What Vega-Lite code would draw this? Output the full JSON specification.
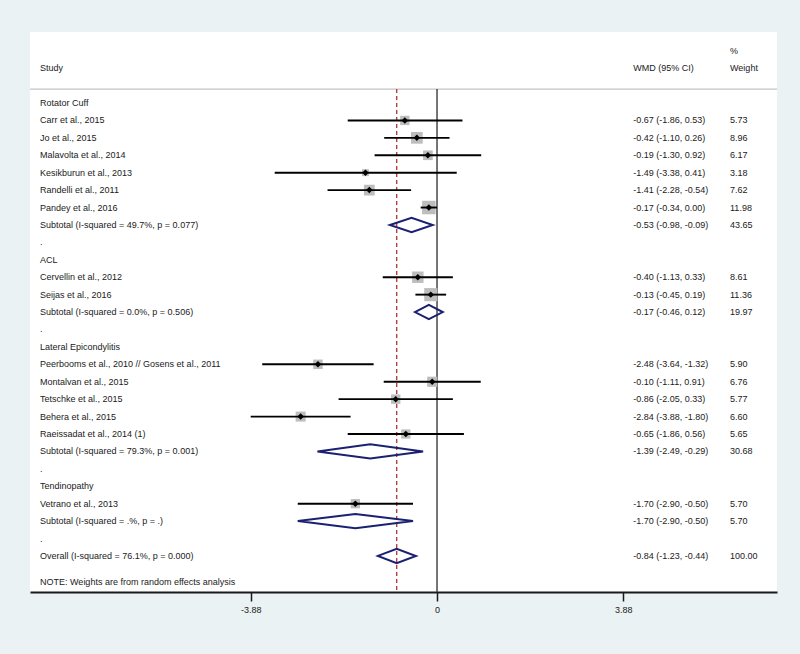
{
  "$schema": "https://vega.github.io/schema/vega-lite/v6.json",
  "width": 747,
  "height": 560,
  "autosize": {"type": "none"},
  "padding": {"left": 30, "top": 32, "right": 23, "bottom": 62},
  "background": "#EAF2F3",
  "config": {
    "view": {"stroke": null, "fill": "white"},
    "text": {"font": "Liberation Sans", "fontSize": 9, "color": "#1a1a1a"},
    "axis": {"labelFont": "Liberation Sans"}
  },
  "datasets": {
    "rows": [
      {"row": -3, "label": "", "kind": "header", "wmd": "", "wt": "%"},
      {"row": -2, "label": "Study", "kind": "header", "wmd": "WMD (95% CI)", "wt": "Weight"},
      {"row": 0, "label": "Rotator Cuff", "kind": "group", "wmd": "", "wt": ""},
      {"row": 1, "label": "Carr et al., 2015", "kind": "study", "est": -0.67, "lo": -1.86, "hi": 0.53, "w": 5.73, "wmd": "-0.67 (-1.86, 0.53)", "wt": "5.73"},
      {"row": 2, "label": "Jo et al., 2015", "kind": "study", "est": -0.42, "lo": -1.10, "hi": 0.26, "w": 8.96, "wmd": "-0.42 (-1.10, 0.26)", "wt": "8.96"},
      {"row": 3, "label": "Malavolta et al., 2014", "kind": "study", "est": -0.19, "lo": -1.30, "hi": 0.92, "w": 6.17, "wmd": "-0.19 (-1.30, 0.92)", "wt": "6.17"},
      {"row": 4, "label": "Kesikburun et al., 2013", "kind": "study", "est": -1.49, "lo": -3.38, "hi": 0.41, "w": 3.18, "wmd": "-1.49 (-3.38, 0.41)", "wt": "3.18"},
      {"row": 5, "label": "Randelli et al., 2011", "kind": "study", "est": -1.41, "lo": -2.28, "hi": -0.54, "w": 7.62, "wmd": "-1.41 (-2.28, -0.54)", "wt": "7.62"},
      {"row": 6, "label": "Pandey et al., 2016", "kind": "study", "est": -0.17, "lo": -0.34, "hi": 0.00, "w": 11.98, "wmd": "-0.17 (-0.34, 0.00)", "wt": "11.98"},
      {"row": 7, "label": "Subtotal  (I-squared = 49.7%, p = 0.077)", "kind": "subtotal", "est": -0.53, "lo": -0.98, "hi": -0.09, "w": 43.65, "wmd": "-0.53 (-0.98, -0.09)", "wt": "43.65"},
      {"row": 8, "label": ".", "kind": "blank", "wmd": "", "wt": ""},
      {"row": 9, "label": "ACL", "kind": "group", "wmd": "", "wt": ""},
      {"row": 10, "label": "Cervellin et al., 2012", "kind": "study", "est": -0.40, "lo": -1.13, "hi": 0.33, "w": 8.61, "wmd": "-0.40 (-1.13, 0.33)", "wt": "8.61"},
      {"row": 11, "label": "Seijas et al., 2016", "kind": "study", "est": -0.13, "lo": -0.45, "hi": 0.19, "w": 11.36, "wmd": "-0.13 (-0.45, 0.19)", "wt": "11.36"},
      {"row": 12, "label": "Subtotal  (I-squared = 0.0%, p = 0.506)", "kind": "subtotal", "est": -0.17, "lo": -0.46, "hi": 0.12, "w": 19.97, "wmd": "-0.17 (-0.46, 0.12)", "wt": "19.97"},
      {"row": 13, "label": ".", "kind": "blank", "wmd": "", "wt": ""},
      {"row": 14, "label": "Lateral Epicondylitis", "kind": "group", "wmd": "", "wt": ""},
      {"row": 15, "label": "Peerbooms et al., 2010 // Gosens et al., 2011", "kind": "study", "est": -2.48, "lo": -3.64, "hi": -1.32, "w": 5.90, "wmd": "-2.48 (-3.64, -1.32)", "wt": "5.90"},
      {"row": 16, "label": "Montalvan et al., 2015", "kind": "study", "est": -0.10, "lo": -1.11, "hi": 0.91, "w": 6.76, "wmd": "-0.10 (-1.11, 0.91)", "wt": "6.76"},
      {"row": 17, "label": "Tetschke et al., 2015", "kind": "study", "est": -0.86, "lo": -2.05, "hi": 0.33, "w": 5.77, "wmd": "-0.86 (-2.05, 0.33)", "wt": "5.77"},
      {"row": 18, "label": "Behera et al., 2015", "kind": "study", "est": -2.84, "lo": -3.88, "hi": -1.80, "w": 6.60, "wmd": "-2.84 (-3.88, -1.80)", "wt": "6.60"},
      {"row": 19, "label": "Raeissadat et al., 2014 (1)", "kind": "study", "est": -0.65, "lo": -1.86, "hi": 0.56, "w": 5.65, "wmd": "-0.65 (-1.86, 0.56)", "wt": "5.65"},
      {"row": 20, "label": "Subtotal  (I-squared = 79.3%, p = 0.001)", "kind": "subtotal", "est": -1.39, "lo": -2.49, "hi": -0.29, "w": 30.68, "wmd": "-1.39 (-2.49, -0.29)", "wt": "30.68"},
      {"row": 21, "label": ".", "kind": "blank", "wmd": "", "wt": ""},
      {"row": 22, "label": "Tendinopathy", "kind": "group", "wmd": "", "wt": ""},
      {"row": 23, "label": "Vetrano et al., 2013", "kind": "study", "est": -1.70, "lo": -2.90, "hi": -0.50, "w": 5.70, "wmd": "-1.70 (-2.90, -0.50)", "wt": "5.70"},
      {"row": 24, "label": "Subtotal  (I-squared = .%, p = .)", "kind": "subtotal", "est": -1.70, "lo": -2.90, "hi": -0.50, "w": 5.70, "wmd": "-1.70 (-2.90, -0.50)", "wt": "5.70"},
      {"row": 25, "label": ".", "kind": "blank", "wmd": "", "wt": ""},
      {"row": 26, "label": "Overall  (I-squared = 76.1%, p = 0.000)", "kind": "overall", "est": -0.84, "lo": -1.23, "hi": -0.44, "w": 100.00, "wmd": "-0.84 (-1.23, -0.44)", "wt": "100.00"},
      {"row": 27.5, "label": "NOTE: Weights are from random effects analysis", "kind": "note", "wmd": "", "wt": ""}
    ]
  },
  "layer": [
    {
      "data": {"values": [{}]},
      "mark": {"type": "rule", "color": "#C4C4C4", "strokeWidth": 1.2},
      "encoding": {
        "y": {"datum": -0.8, "type": "quantitative", "scale": {"domain": [-4.076, 28.07], "reverse": true, "zero": false, "nice": false}, "axis": null}
      }
    },
    {
      "data": {"values": [{}]},
      "mark": {"type": "rule", "color": "#3a3a3a", "strokeWidth": 1.4},
      "encoding": {
        "x": {"datum": 0, "type": "quantitative", "scale": {"domain": [-8.476, 7.08], "zero": false, "nice": false},
          "axis": {"values": [-3.88, 0, 3.88], "title": null, "grid": false, "domainColor": "#1a1a1a", "domainWidth": 2, "tickColor": "#1a1a1a", "tickWidth": 1.5, "tickSize": 9, "labelFontSize": 9, "labelColor": "#1a1a1a", "labelPadding": 4,
            "labelExpr": "datum.value == 0 ? '0' : (datum.value < 0 ? '-' : '') + format(abs(datum.value), '.2f')"}},
        "y": {"datum": -0.8, "type": "quantitative"},
        "y2": {"datum": 28.07}
      }
    },
    {
      "data": {"values": [{}]},
      "mark": {"type": "rule", "color": "#B0413E", "strokeWidth": 1.4, "strokeDash": [4, 3]},
      "encoding": {
        "x": {"datum": -0.84, "type": "quantitative"},
        "y": {"datum": -0.8, "type": "quantitative"},
        "y2": {"datum": 28.07}
      }
    },
    {
      "data": {"name": "rows"},
      "transform": [{"filter": "datum.kind == 'study'"}],
      "mark": {"type": "point", "shape": "square", "filled": true, "color": "#BDBDBD", "opacity": 1},
      "encoding": {
        "x": {"field": "est", "type": "quantitative"},
        "y": {"field": "row", "type": "quantitative"},
        "size": {"field": "w", "type": "quantitative", "scale": {"type": "linear", "domain": [0, 12], "range": [0, 182], "zero": true}, "legend": null}
      }
    },
    {
      "data": {"name": "rows"},
      "transform": [{"filter": "datum.kind == 'study'"}],
      "mark": {"type": "rule", "color": "#000000", "strokeWidth": 1.9},
      "encoding": {
        "x": {"field": "lo", "type": "quantitative"},
        "x2": {"field": "hi"},
        "y": {"field": "row", "type": "quantitative"}
      }
    },
    {
      "data": {"name": "rows"},
      "transform": [{"filter": "datum.kind == 'study'"}],
      "mark": {"type": "point", "shape": "diamond", "filled": true, "color": "#000000", "size": 42, "opacity": 1},
      "encoding": {
        "x": {"field": "est", "type": "quantitative"},
        "y": {"field": "row", "type": "quantitative"}
      }
    },
    {
      "data": {"name": "rows"},
      "transform": [
        {"filter": "datum.kind == 'subtotal' || datum.kind == 'overall'"},
        {"fold": ["lo", "est", "hi"], "as": ["pt", "xv"]},
        {"calculate": "datum.pt == 'est' ? 0.41 : 0", "as": "half"},
        {"calculate": "datum.row - datum.half", "as": "ytop"},
        {"calculate": "datum.row + datum.half", "as": "ybot"}
      ],
      "mark": {"type": "area", "orient": "vertical", "fill": "transparent", "stroke": "#1B2070", "strokeWidth": 2},
      "encoding": {
        "x": {"field": "xv", "type": "quantitative"},
        "y": {"field": "ytop", "type": "quantitative"},
        "y2": {"field": "ybot"},
        "detail": {"field": "row"}
      }
    },
    {
      "data": {"name": "rows"},
      "mark": {"type": "text", "align": "left", "baseline": "middle"},
      "encoding": {
        "x": {"datum": -8.267, "type": "quantitative"},
        "y": {"field": "row", "type": "quantitative"},
        "text": {"field": "label"}
      }
    },
    {
      "data": {"name": "rows"},
      "mark": {"type": "text", "align": "left", "baseline": "middle"},
      "encoding": {
        "x": {"datum": 4.088, "type": "quantitative"},
        "y": {"field": "row", "type": "quantitative"},
        "text": {"field": "wmd"}
      }
    },
    {
      "data": {"name": "rows"},
      "mark": {"type": "text", "align": "left", "baseline": "middle"},
      "encoding": {
        "x": {"datum": 6.102, "type": "quantitative"},
        "y": {"field": "row", "type": "quantitative"},
        "text": {"field": "wt"}
      }
    }
  ]
}
